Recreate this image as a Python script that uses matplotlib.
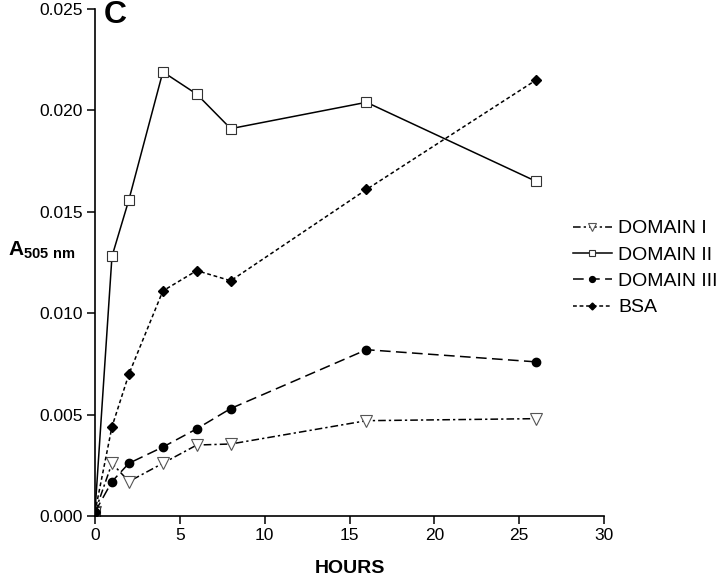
import matplotlib
matplotlib.use("Agg")
import matplotlib.pyplot as plt
from matplotlib.ticker import FormatStrFormatter

plt.rcParams['font.family'] = ['Liberation Sans', 'DejaVu Sans']
plt.rcParams['mathtext.fontset'] = 'custom'
plt.rcParams['mathtext.rm'] = 'Liberation Sans'
plt.rcParams['mathtext.bf'] = 'Liberation Sans:bold'

hours = [0, 1, 2, 4, 6, 8, 16, 26]
domain1 = [0.0002, 0.0026, 0.0017, 0.0026, 0.0035, 0.00355, 0.0047, 0.0048]
domain2 = [0.0002, 0.0128, 0.0156, 0.0219, 0.0208, 0.0191, 0.0204, 0.0165]
domain3 = [0.0002, 0.0017, 0.0026, 0.0034, 0.0043, 0.0053, 0.0082, 0.0076]
bsa = [0.0002, 0.0044, 0.0070, 0.0111, 0.0121, 0.0116, 0.0161, 0.0215]
series_names = ["DOMAIN I", "DOMAIN II", "DOMAIN III", "BSA"]
xticks = [0, 5, 10, 15, 20, 25, 30]
yticks = [0.000, 0.005, 0.010, 0.015, 0.020, 0.025]

fig = plt.figure(figsize=(7.2, 5.76), dpi=100)
ax = fig.add_axes([95/720, 60/576, 509/720, 507/576])

lw = 1.1
ax.plot(hours, domain1, color='black', lw=lw, dashes=(5, 2, 1.5, 2),
        marker='v', markersize=8, markerfacecolor='white', markeredgecolor='#555555',
        markeredgewidth=0.8, label=series_names[0])
ax.plot(hours, domain2, color='black', lw=lw, linestyle='-',
        marker='s', markersize=6.5, markerfacecolor='white', markeredgecolor='#333333',
        markeredgewidth=0.8, label=series_names[1])
ax.plot(hours, domain3, color='black', lw=lw, dashes=(7, 3.5),
        marker='o', markersize=6, markerfacecolor='black', markeredgecolor='black',
        label=series_names[2])
ax.plot(hours, bsa, color='black', lw=lw, dashes=(2.5, 1.8),
        marker='D', markersize=5, markerfacecolor='black', markeredgecolor='black',
        label=series_names[3])

ax.set_xlim(0, 30)
ax.set_ylim(0, 0.025)
ax.set_xticks(xticks)
ax.set_yticks(yticks)
ax.yaxis.set_major_formatter(FormatStrFormatter('%.3f'))
ax.spines['top'].set_visible(False)
ax.spines['right'].set_visible(False)
for s in ('left', 'bottom'):
    ax.spines[s].set_linewidth(1.2)
ax.tick_params(axis='both', direction='out', length=6, width=1.1, labelsize=12.5, pad=3)
ax.set_xlabel('HOURS', fontsize=14, fontweight='bold', labelpad=12)

fig.text(8/720, 1 - 250/576, r'$\mathbf{A}_{\mathbf{505\ nm}}$', fontsize=15,
         ha='left', va='center')
fig.text(104/720, 1 - 15/576, 'C', fontsize=23, fontweight='bold', ha='left', va='center')

leg = fig.legend(loc='upper left', bbox_to_anchor=(565/720, 1 - 212/576), frameon=False,
                 fontsize=14, handlelength=2.0, handletextpad=0.35, labelspacing=0.45,
                 borderaxespad=0, markerscale=0.7)

fig.savefig('out.png', dpi=100)
